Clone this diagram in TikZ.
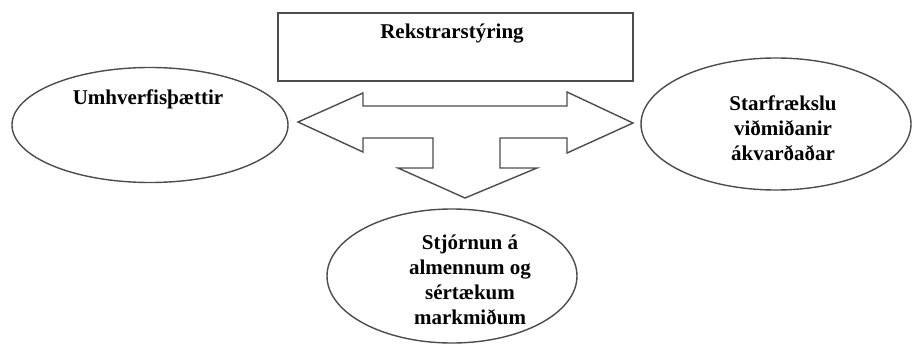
\documentclass[tikz,border=0pt]{standalone}
\usepackage{fontspec}
\setmainfont{Liberation Serif}
\usetikzlibrary{shapes.geometric}
\tikzset{
  outl/.style={draw=black!70, line width=1.4pt},
  ell/.style={outl, ellipse, inner sep=0pt},
  lbl/.style={font=\fontsize{21}{25}\selectfont\bfseries, align=center, inner sep=0pt}
}
\begin{document}
\begin{tikzpicture}[x=1pt,y=-1pt]
\useasboundingbox (0,0) rectangle (912,345);
% top rectangle
\node[outl, minimum width=355pt, minimum height=68pt, inner sep=0pt] (box) at (455.5,47) {};
\node[lbl] (boxt) at (452,34) {Rekstrarstýring};
% left ellipse
\node[ell, minimum width=276pt, minimum height=115pt] (left) at (150,125) {};
\node[lbl] (leftt) at (148,99) {Umhverfisþættir};
% right ellipse
\node[ell, minimum width=270pt, minimum height=132pt] (right) at (776,124) {};
\node[lbl] (rightt) at (783,128) {Starfrækslu\\viðmiðanir\\ákvarðaðar};
% bottom ellipse
\node[ell, minimum width=250pt, minimum height=134pt] (bot) at (452,276) {};
\node[lbl] (bott) at (470,280) {Stjórnun á\\almennum og\\sértækum\\markmiðum};
% T-shaped arrow
\draw[outl, line join=miter]
  (298,122) -- (363,93) -- (363,106) -- (567,106) -- (567,92) -- (633,123)
  -- (567,153) -- (567,138) -- (500,138) -- (500,168) -- (537,168)
  -- (465,198) -- (398,168) -- (433,168) -- (433,138) -- (363,138)
  -- (363,152) -- cycle;
\end{tikzpicture}
\end{document}
